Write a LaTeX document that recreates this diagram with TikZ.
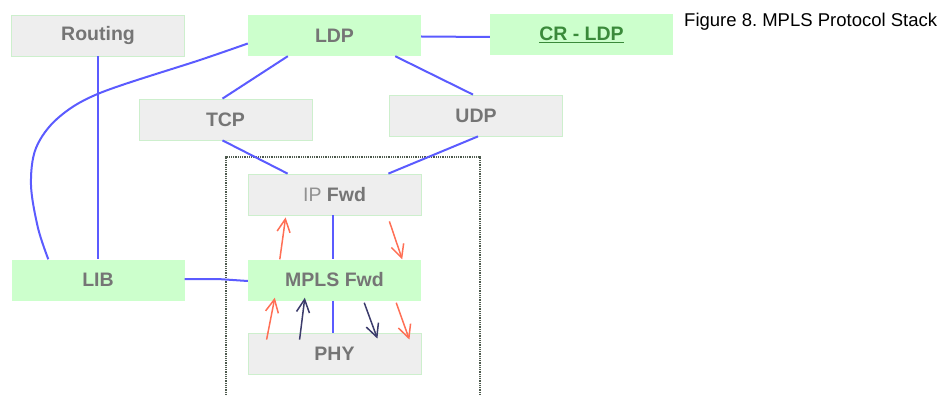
\documentclass[tikz,border=0pt]{standalone}
\usepackage{fontspec}
\setmainfont{Liberation Sans}
\frenchspacing
\usetikzlibrary{arrows.meta}
\definecolor{boxgray}{HTML}{EEEEEE}
\definecolor{boxgreen}{HTML}{CCFFCC}
\definecolor{edgegreen}{HTML}{CDEFCD}
\definecolor{linkblue}{HTML}{5B5BFF}
\definecolor{flowred}{HTML}{FF6F55}
\definecolor{flownavy}{HTML}{3C3C6C}
\definecolor{labelgray}{HTML}{757575}
\definecolor{crgreen}{HTML}{3A8A3A}
\definecolor{framegray}{HTML}{4E5A4E}
\begin{document}
\begin{tikzpicture}[x=1pt,y=-1pt,
  layer/.style={rectangle, minimum width=173pt, minimum height=41pt, inner sep=0pt,
    font=\fontsize{19.5}{21}\selectfont\bfseries, text=labelgray},
  graybox/.style={layer, fill=boxgray, draw=edgegreen, line width=0.8pt},
  greenbox/.style={layer, fill=boxgreen},
  link/.style={draw=linkblue, line width=2pt},
  flow/.style={line width=1.5pt, -{Straight Barb[length=13pt,width=13pt]}},
  upflow/.style={flow, draw=flowred},
  darkflow/.style={flow, draw=flownavy}]
\useasboundingbox (0,0) rectangle (941,395);

% forwarding plane frame, open at the bottom
\draw[framegray, line width=1.2pt, dash pattern=on 1pt off 0.8pt]
  (226,395) -- (226,157) -- (480,157) -- (480,395);

% protocol blocks
\node[graybox]  (routing) at (98,35.5)    {Routing};
\node[greenbox] (ldp)     at (334.5,35.5) {LDP};
\node[greenbox, minimum width=183pt, text=crgreen] (crldp) at (581.5,35) {\underline{CR - LDP}};
\node[graybox]  (tcp)     at (225.5,119.5) {TCP};
\node[graybox]  (udp)     at (476,115.5)   {UDP};
\node[graybox]  (ipfwd)   at (334.5,194.5) {{\mdseries\color{labelgray!80}IP}\ Fwd};
\node[greenbox] (lib)     at (98,280)      {LIB};
\node[greenbox] (mpls)    at (334.5,280)   {MPLS Fwd};
\node[graybox]  (phy)     at (334.5,353.5) {PHY};

\node[anchor=base west, inner sep=0pt, font=\fontsize{18.5}{20}\selectfont] (title) at (684,27) {Figure 8. MPLS Protocol Stack};

% connection end points on the block edges
\coordinate (ldpw)  at ([yshift=-8pt]ldp.west);
\coordinate (ldpsl) at ([xshift=40pt]ldp.south west);
\coordinate (ldpsr) at ([xshift=-26pt]ldp.south east);
\coordinate (ldpe)  at ([yshift=-1pt]ldp.east);
\coordinate (crw)   at ([yshift=-2pt]crldp.west);
\coordinate (tcpn)  at ([xshift=-3pt]tcp.north);
\coordinate (tcps)  at ([xshift=-3pt]tcp.south);
\coordinate (udpn)  at ([xshift=-3pt]udp.north);
\coordinate (udps)  at ([xshift=2pt]udp.south);
\coordinate (ipnl)  at ([xshift=40pt]ipfwd.north west);
\coordinate (ipnr)  at ([xshift=-33pt]ipfwd.north east);
\coordinate (libn)  at ([xshift=37pt]lib.north west);

% blue links
\draw[link] (routing.south) -- (routing.south |- lib.north);
\draw[link] plot[smooth, tension=0.55] coordinates
  {(ldpw) (200,60) (100,93) (58,118) (36,148) (31,185) (38,228) (libn)};
\draw[link] (ldpsl) -- (tcpn);
\draw[link] (ldpsr) -- (udpn);
\draw[link] (ldpe) -- (crw);
\draw[link] (tcps) -- (ipnl);
\draw[link] (udps) -- (ipnr);
\draw[link] ([xshift=-2pt]ipfwd.south) -- ([xshift=-2pt]mpls.north);
\draw[link] ([xshift=-2pt]mpls.south) -- ([xshift=-2pt]phy.north);
\draw[link] ([yshift=1pt]lib.east) -- ++(33,0) -- ([yshift=-1pt]mpls.west);

% packet flows between the forwarding layers
\draw[upflow] ([xshift=32pt]mpls.north west) -- ([xshift=38pt,yshift=-2pt]ipfwd.south west);
\draw[upflow] ([xshift=-32pt,yshift=-6pt]ipfwd.south east) -- ([xshift=-19pt]mpls.north east);
\draw[upflow] ([xshift=19pt,yshift=-7pt]phy.north west) -- ([xshift=27pt,yshift=3pt]mpls.south west);
\draw[darkflow] ([xshift=52pt,yshift=-7pt]phy.north west) -- ([xshift=57pt,yshift=3pt]mpls.south west);
\draw[darkflow] ([xshift=-57pt,yshift=-2pt]mpls.south east) -- ([xshift=-44pt,yshift=-6pt]phy.north east);
\draw[upflow] ([xshift=-25pt,yshift=-2pt]mpls.south east) -- ([xshift=-12pt,yshift=-7pt]phy.north east);
\end{tikzpicture}
\end{document}
